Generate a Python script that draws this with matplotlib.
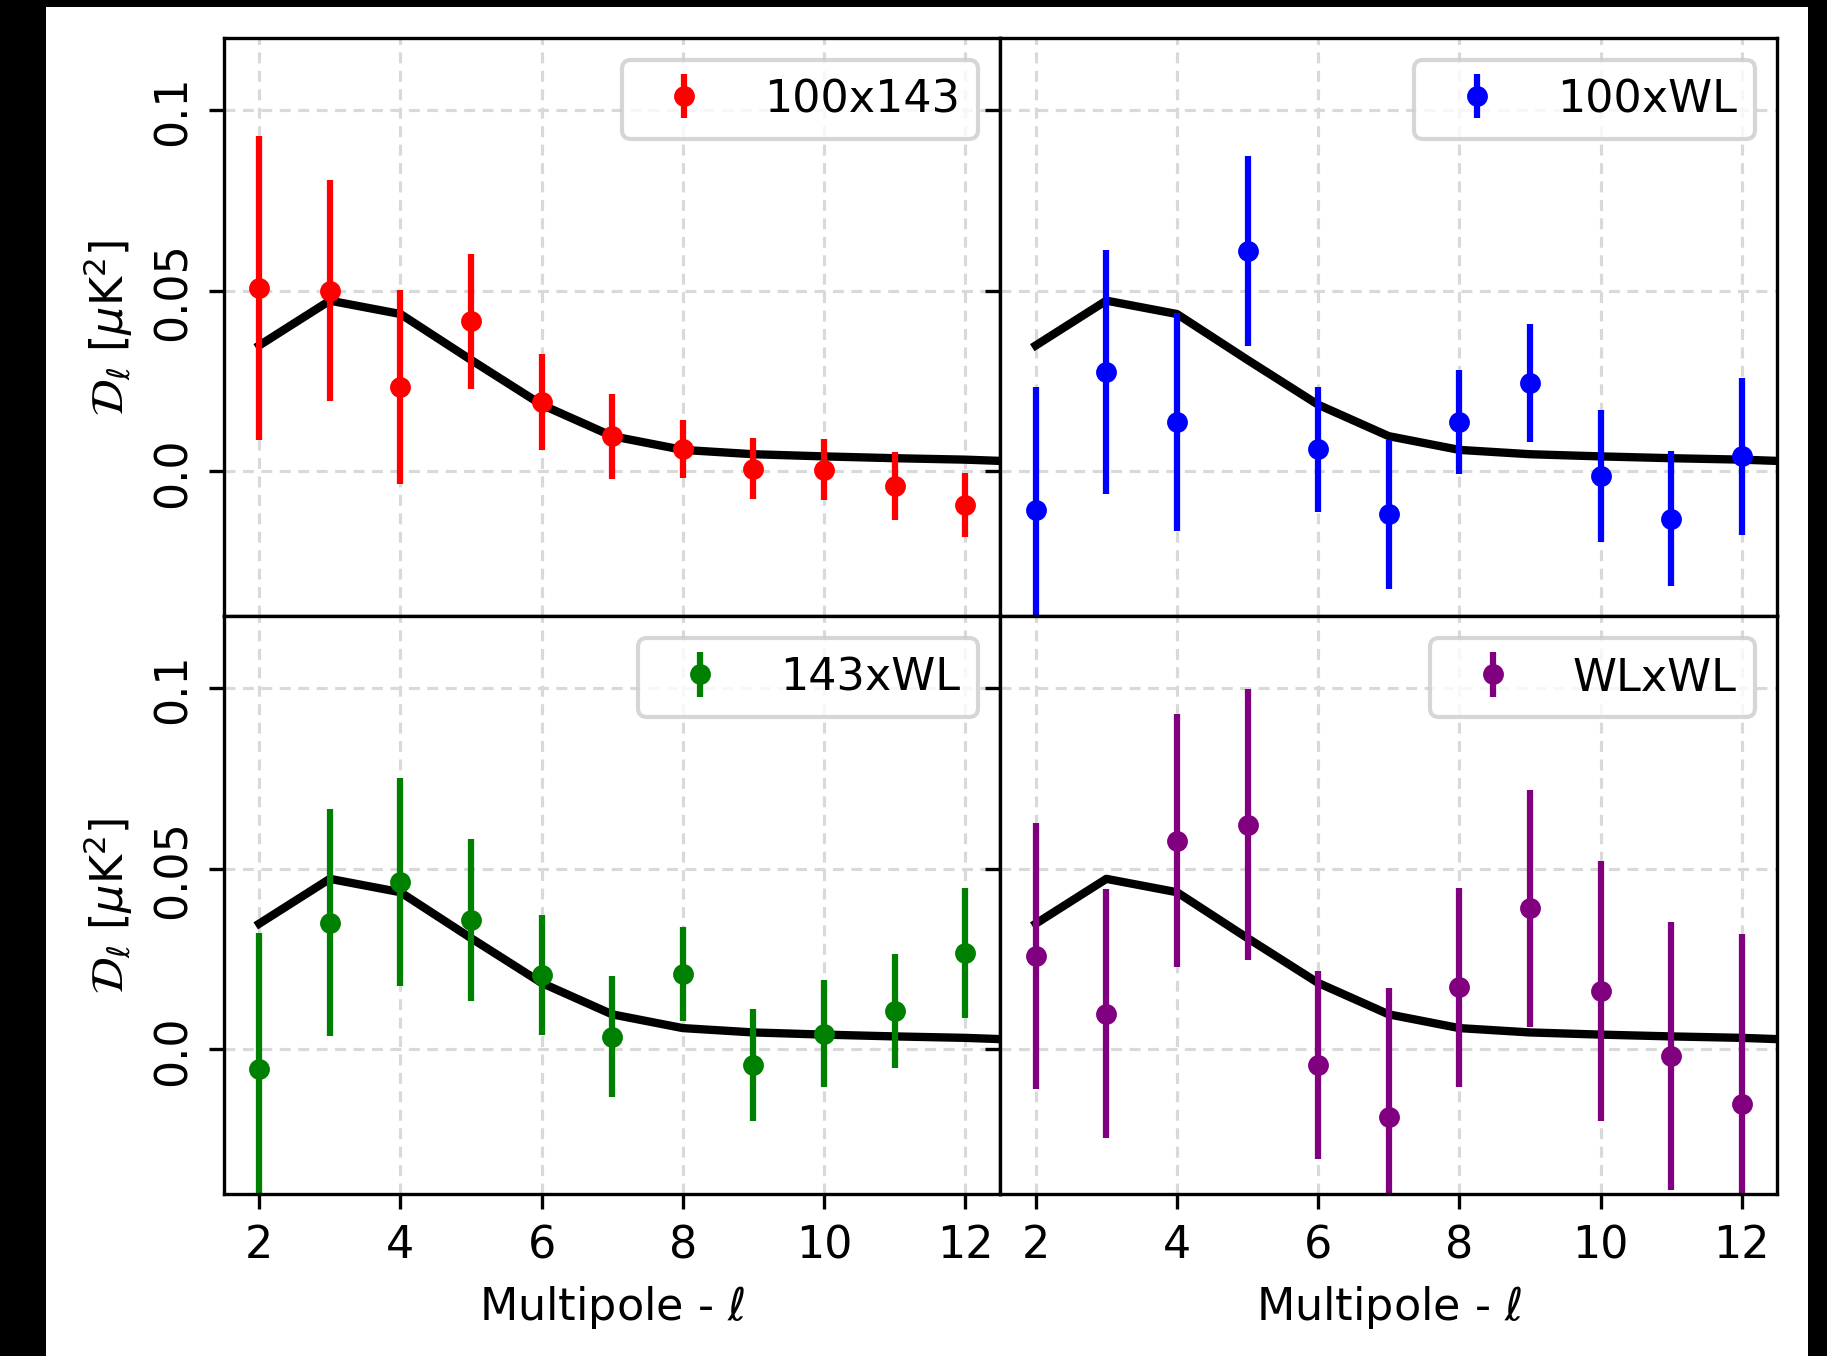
"""
cross-spectra of the 100, 143 and WL maps against the model curve
"""

import matplotlib
matplotlib.use('Agg')
import matplotlib.pyplot as plt
from matplotlib.patches import Rectangle
import numpy as np

ells = [2, 3, 4, 5, 6, 7, 8, 9, 10, 11, 12]

# model curve (runs one multipole past the last bin so it reaches the edge)
model_ells = [2, 3, 4, 5, 6, 7, 8, 9, 10, 11, 12, 13]
model_dl = [0.0348, 0.0472, 0.0435, 0.0308, 0.0184, 0.0097, 0.0059,
            0.0047, 0.0041, 0.0036, 0.0032, 0.0025]

dl_100x143 = [0.0506, 0.0500, 0.0233, 0.0415, 0.0191, 0.0097, 0.0061,
              0.0007, 0.0004, -0.0040, -0.0093]
err_100x143 = [0.0421, 0.0307, 0.0269, 0.0187, 0.0132, 0.0118, 0.0080,
               0.0085, 0.0085, 0.0094, 0.0089]

dl_100xWL = [-0.0108, 0.0274, 0.0136, 0.0610, 0.0061, -0.0119, 0.0136,
             0.0244, -0.0014, -0.0132, 0.0041]
err_100xWL = [0.0341, 0.0337, 0.0302, 0.0263, 0.0173, 0.0206, 0.0144,
              0.0163, 0.0183, 0.0187, 0.0217]

dl_143xWL = [-0.0053, 0.0350, 0.0464, 0.0358, 0.0206, 0.0035, 0.0208,
             -0.0042, 0.0044, 0.0107, 0.0267]
err_143xWL = [0.0376, 0.0314, 0.0288, 0.0224, 0.0165, 0.0168, 0.0130,
              0.0155, 0.0149, 0.0158, 0.0179]

dl_WLxWL = [0.0258, 0.0099, 0.0577, 0.0622, -0.0043, -0.0188, 0.0172,
            0.0391, 0.0161, -0.0019, -0.0151]
err_WLxWL = [0.0368, 0.0345, 0.0350, 0.0375, 0.0259, 0.0357, 0.0275,
             0.0328, 0.0360, 0.0371, 0.0470]

spectra = [('100x143', dl_100x143, err_100x143, 'red'),
           ('100xWL', dl_100xWL, err_100xWL, 'blue'),
           ('143xWL', dl_143xWL, err_143xWL, 'green'),
           ('WLxWL', dl_WLxWL, err_WLxWL, 'purple')]

plt.rcParams['font.size'] = 10.7

fig, axes = plt.subplots(2, 2, sharex=True, sharey=True, figsize=(6.0933, 4.5233), dpi=300)
fig.patch.set_facecolor('black')
# white page with a black margin on the left, top and right
fig.patches.append(Rectangle((46 / 1828, 0), (1808 - 46) / 1828, 1 - 8 / 1357,
                             transform=fig.transFigure, facecolor='white',
                             edgecolor='none', zorder=-1))
fig.subplots_adjust(left=0.1225, right=0.9721, top=0.9716, bottom=0.1194,
                    hspace=0, wspace=0)

for ax, (name, dl, err, colour) in zip(axes.flat, spectra):
    ax.grid(True, linestyle=(0, (3.5, 2.4)), color='0.85', linewidth=0.75)
    ax.plot(model_ells, model_dl, color='black', lw=2)
    ax.errorbar(ells, dl, yerr=err, fmt='o', color=colour, ms=4,
                elinewidth=1.5, label=name)
    ax.legend(loc='upper right')
    ax.tick_params(axis='y', labelrotation=90)
    for lbl in ax.get_yticklabels():
        lbl.set_va('center')

ax = axes[0, 0]
ax.set_xlim(1.5, 12.5)
ax.set_ylim(-0.04, 0.12)
ax.set_xticks([2, 4, 6, 8, 10, 12])
ax.set_yticks([0.0, 0.05, 0.1])
ax.set_yticklabels(['0.0', '0.05', '0.1'])

for ax in axes[:, 0]:
    ax.set_ylabel(r'$\mathcal{D}_\ell\ [\mu \mathrm{K}^2]$')
for ax in axes[1, :]:
    ax.set_xlabel(r'Multipole - $\ell$')

plt.savefig('out.png', dpi=300, facecolor=fig.get_facecolor())
